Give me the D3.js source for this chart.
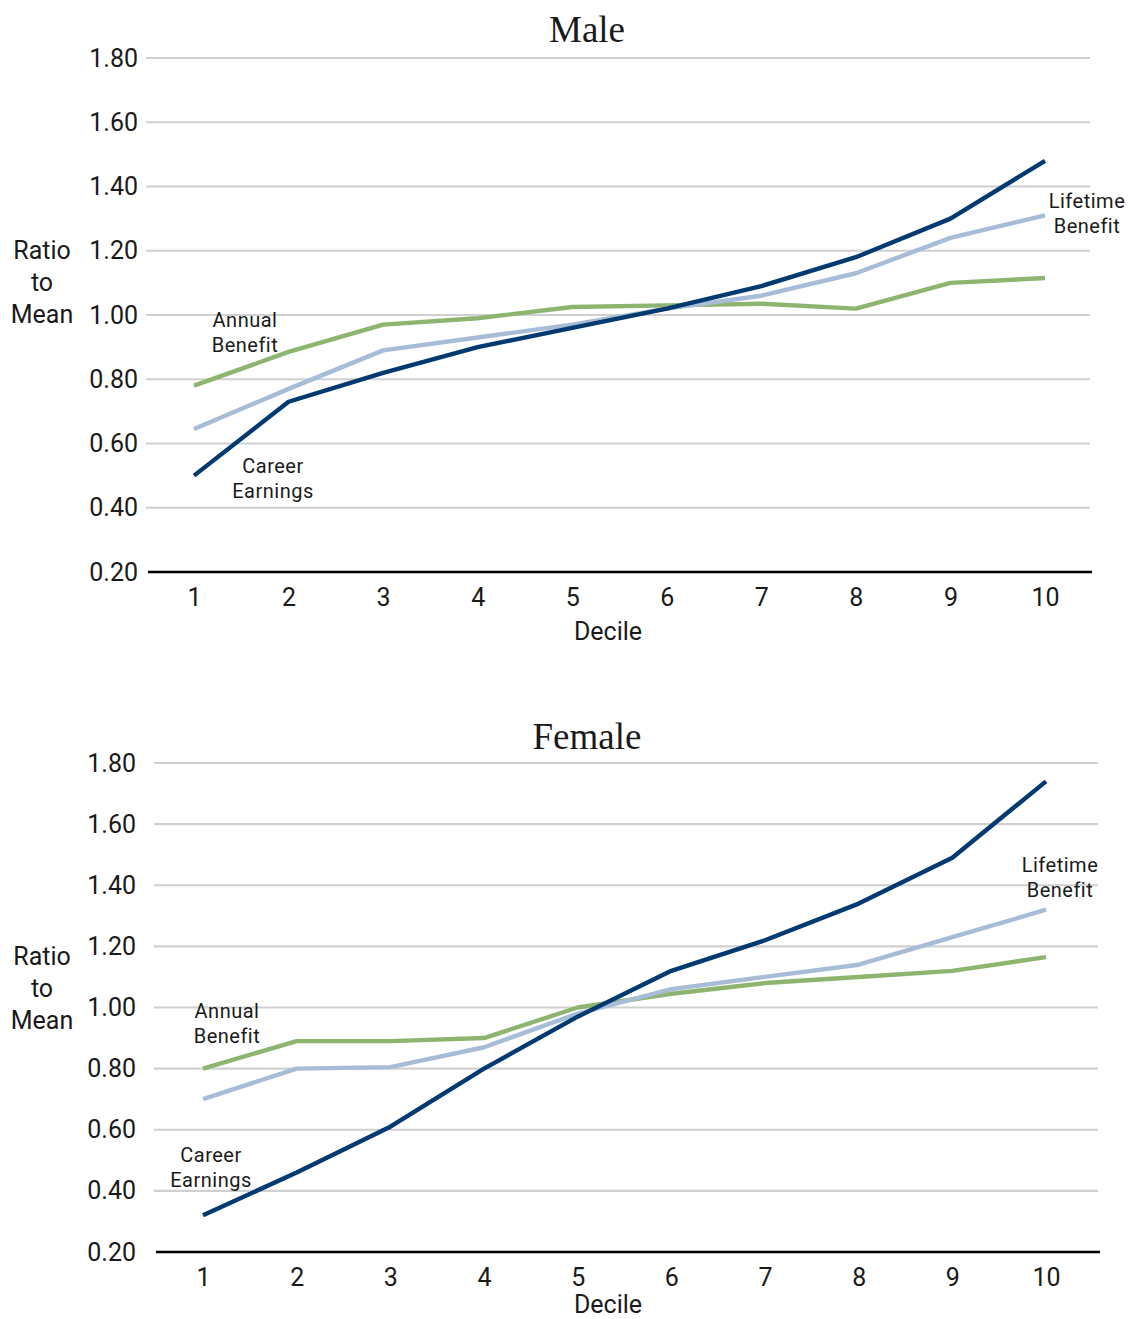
<!DOCTYPE html>
<html><head><meta charset="utf-8">
<script src="https://cdn.jsdelivr.net/npm/d3@7"></script>
<style>
body{margin:0;background:#fff;}
svg text{font-family:Roboto,"Noto Sans",sans-serif;fill:#1a1a1a;}
</style></head>
<body><svg id="chart" width="1130" height="1319"></svg>
<script>
const deciles = [1,2,3,4,5,6,7,8,9,10];
const yTicks = [0.2,0.4,0.6,0.8,1.0,1.2,1.4,1.6,1.8];
const maleCareer   = [0.50,0.73,0.82,0.90,0.96,1.02,1.09,1.18,1.30,1.48];
const maleLifetime = [0.645,0.77,0.89,0.93,0.97,1.02,1.06,1.13,1.24,1.31];
const maleAnnual   = [0.78,0.885,0.97,0.99,1.025,1.03,1.035,1.02,1.10,1.115];
const femaleCareer   = [0.32,0.46,0.61,0.80,0.97,1.12,1.22,1.34,1.49,1.74];
const femaleLifetime = [0.70,0.80,0.805,0.87,0.98,1.06,1.10,1.14,1.23,1.32];
const femaleAnnual   = [0.80,0.89,0.89,0.90,1.00,1.045,1.08,1.10,1.12,1.165];
const seriesNames = ["Annual Benefit","Lifetime Benefit","Career Earnings"];
const colors = {"Annual Benefit":"#8db56f","Lifetime Benefit":"#a7bcd7","Career Earnings":"#003a70"};

const svg = d3.select("#chart");

function drawPanel(cfg){
  const g = svg.append("g");
  const x = d3.scaleLinear().domain([1,10]).range([cfg.x0,cfg.x1]);
  const y = d3.scaleLinear().domain([0.2,1.8]).range([cfg.yBottom,cfg.yTop]);

  g.append("text").attr("x",cfg.titleX).attr("y",cfg.titleY)
    .attr("text-anchor","middle")
    .style("font-family","'Liberation Serif','DejaVu Serif',serif")
    .style("font-size","37px").text(cfg.title);

  g.selectAll(".grid").data(yTicks.filter(t=>t>0.2)).join("line")
    .attr("x1",cfg.gx0).attr("x2",cfg.gx1)
    .attr("y1",d=>y(d)).attr("y2",d=>y(d))
    .attr("stroke","#d0d0d0").attr("stroke-width",2.2);

  const ya = g.append("g").attr("transform",`translate(${cfg.gx0},0)`)
    .call(d3.axisLeft(y).tickValues(yTicks).tickSize(0).tickPadding(cfg.yPad).tickFormat(d3.format(".2f")));
  ya.select(".domain").remove();
  ya.selectAll("text").style("font-family","Roboto,sans-serif").style("font-size","25px").attr("fill","#1a1a1a");

  g.append("line").attr("x1",cfg.gx0+2).attr("x2",cfg.gx1+2)
    .attr("y1",y(0.2)).attr("y2",y(0.2)).attr("stroke","#000").attr("stroke-width",2.4);

  const xa = g.append("g").attr("transform",`translate(0,${y(0.2)})`)
    .call(d3.axisBottom(x).tickValues(deciles).tickSize(0).tickPadding(16).tickFormat(d3.format("d")));
  xa.select(".domain").remove();
  xa.selectAll("text").style("font-family","Roboto,sans-serif").style("font-size","25px").attr("fill","#1a1a1a");

  g.append("text").attr("x",608).attr("y",cfg.xTitleY).attr("text-anchor","middle")
    .style("font-size","25px").text("Decile");

  const yt = g.append("text").attr("text-anchor","middle").style("font-size","25px");
  ["Ratio","to","Mean"].forEach((s,i)=>{
    yt.append("tspan").attr("x",42).attr("y",cfg.yTitleY+i*32).text(s);
  });

  const line = d3.line().x((d,i)=>x(deciles[i])).y(d=>y(d));
  const data = {"Annual Benefit":cfg.annual,"Lifetime Benefit":cfg.lifetime,"Career Earnings":cfg.career};
  seriesNames.forEach(n=>{
    g.append("path").datum(data[n]).attr("d",line)
      .attr("fill","none").attr("stroke",colors[n]).attr("stroke-width",4.4)
      .attr("stroke-linejoin","round");
  });

  cfg.labels.forEach(l=>{
    const t = g.append("text").attr("text-anchor","middle")
      .style("font-size","20px").style("letter-spacing","0.5px");
    l.lines.forEach((s,i)=>t.append("tspan").attr("x",l.x).attr("y",l.y+i*25).text(s));
  });
}

drawPanel({
  title:"Male", titleX:587, titleY:42,
  x0:194, x1:1045, yTop:58, yBottom:572,
  gx0:146, gx1:1090, yPad:8,
  xTitleY:640, yTitleY:259,
  career:maleCareer, lifetime:maleLifetime, annual:maleAnnual,
  labels:[
    {x:245,y:327,lines:["Annual","Benefit"]},
    {x:273,y:473,lines:["Career","Earnings"]},
    {x:1087,y:208,lines:["Lifetime","Benefit"]}
  ]
});

drawPanel({
  title:"Female", titleX:587, titleY:749,
  x0:203, x1:1046, yTop:763, yBottom:1252,
  gx0:154, gx1:1098, yPad:18,
  xTitleY:1313, yTitleY:965,
  career:femaleCareer, lifetime:femaleLifetime, annual:femaleAnnual,
  labels:[
    {x:227,y:1018,lines:["Annual","Benefit"]},
    {x:211,y:1162,lines:["Career","Earnings"]},
    {x:1060,y:872,lines:["Lifetime","Benefit"]}
  ]
});
</script></body></html>
